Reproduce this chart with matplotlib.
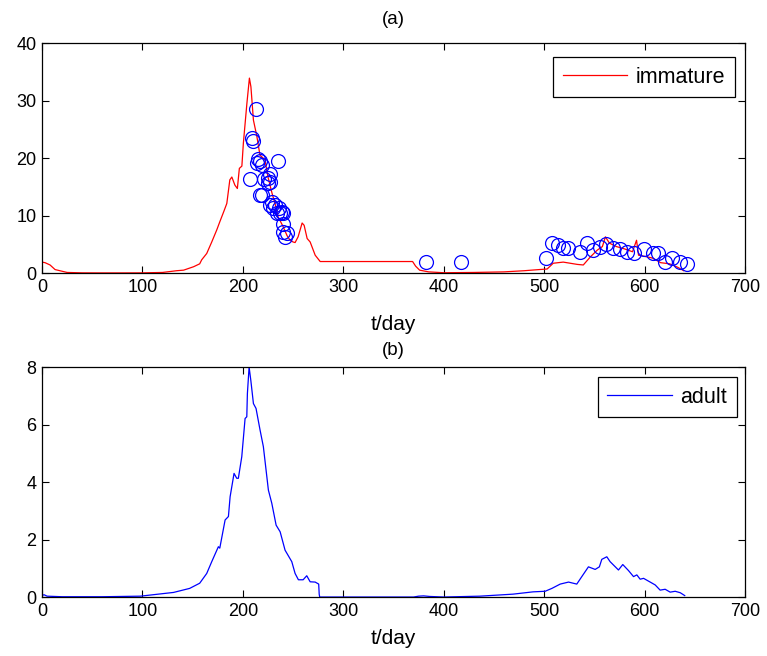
import matplotlib
matplotlib.use("Agg")
import matplotlib.pyplot as plt

plt.rcParams['font.family'] = ['Liberation Sans', 'DejaVu Sans']

# immature model curve (red)
imm_t = [0, 3, 8, 13, 25, 40, 60, 80, 100, 120, 134, 141, 151, 157, 159, 164, 169, 174, 177, 181, 184, 187, 189,
         192, 194.5, 196.5, 199, 200.5, 204, 206.5, 208, 210.5, 214, 217, 222, 225, 229, 232, 235, 240, 244, 247,
         250, 252, 255, 259, 261, 264, 267, 272, 277, 300, 340, 369, 372, 376, 385, 400, 430, 460, 480, 495, 503,
         509, 519, 533, 539, 546, 553, 558, 561, 565, 572, 580, 588, 592, 594, 600, 608, 616, 625, 633, 639]
imm_y = [1.9, 1.8, 1.4, 0.6, 0.1, 0.03, 0.02, 0.02, 0.03, 0.1, 0.4, 0.5, 1.1, 1.6, 2.3, 3.4, 5.4, 7.5, 8.9, 10.7,
         12.1, 16.2, 16.7, 15.3, 14.7, 18.2, 18.6, 22.6, 29.5, 33.9, 32.4, 26.6, 23.7, 20.5, 19.7, 16.7, 13.9, 12.1,
         9.8, 8.1, 6.5, 5.7, 5.4, 5.3, 6.3, 8.7, 8.3, 6.0, 5.4, 3.1, 2.0, 2.0, 2.0, 2.0, 1.2, 0.5, 0.2, 0.05, 0.1,
         0.2, 0.4, 0.6, 0.7, 1.7, 1.9, 1.5, 1.4, 2.8, 4.0, 4.6, 6.3, 5.2, 4.6, 4.2, 3.7, 5.7, 3.1, 2.9, 2.6, 1.8,
         1.6, 1.0, 0.4]

# observed immature data (circles)
obs_t = [207, 208.8, 210.5, 212.8, 213.8, 215.5, 217, 218.8, 217, 219.4, 221, 225, 225.4, 227, 227, 227, 228.6,
         230.4, 232, 233.7, 235.4, 235.5, 237, 238.7, 240, 240.4, 240.4, 242, 243.7, 382, 417, 502, 507.6, 514,
         519, 524, 536, 543, 549, 556, 562, 569, 576, 582.5, 589, 599, 608.6, 613.5, 620.5, 627.5, 635.5, 642]
obs_y = [16.3, 23.4, 23.0, 28.5, 19.1, 19.9, 19.4, 18.8, 13.6, 13.6, 16.3, 15.6, 16.5, 17.3, 11.8, 15.9, 12.4,
         11.3, 11.8, 10.4, 19.4, 11.3, 10.4, 10.7, 10.4, 8.6, 7.2, 6.3, 6.9, 2.0, 1.9, 2.7, 5.2, 4.9, 4.4, 4.3,
         3.7, 5.2, 4.0, 4.6, 5.1, 4.4, 4.1, 3.6, 3.5, 4.1, 3.5, 3.5, 2.0, 2.7, 2.0, 1.5]

# adult model curve (blue)
adu_t = [0, 2, 5, 20, 60, 98, 131, 147, 157, 164, 169, 175.6, 177, 182.3, 185.6, 187.3, 191.2, 193.9, 195.5,
         198.9, 202.2, 203.9, 204.5, 206.2, 207.9, 210.5, 213.1, 217.1, 220.4, 225.4, 228.8, 233.1, 237.1, 242,
         248.7, 252, 255.3, 260, 263.6, 267, 272, 275.5, 276, 276.5, 300, 370, 375, 380, 386, 400, 436, 469, 489,
         501, 507.7, 516, 524.3, 532.5, 537.5, 544.1, 550.8, 555, 557.4, 562.4, 565.7, 574, 578.3, 584, 589,
         592.3, 595.6, 599, 605.6, 610.6, 615.5, 620.5, 625.5, 630.5, 635.5, 640]
adu_y = [0.05, 0.08, 0.03, 0.01, 0.01, 0.03, 0.16, 0.3, 0.48, 0.82, 1.23, 1.75, 1.7, 2.68, 2.8, 3.49, 4.3, 4.13,
         4.13, 4.88, 6.21, 6.27, 7.08, 8.0, 7.54, 6.73, 6.56, 5.81, 5.23, 3.72, 3.26, 2.5, 2.27, 1.63, 1.23, 0.82,
         0.6, 0.6, 0.74, 0.53, 0.52, 0.45, 0.1, 0.0, 0.0, 0.0, 0.03, 0.04, 0.02, 0.0, 0.03, 0.1, 0.18, 0.2, 0.3,
         0.45, 0.52, 0.45, 0.71, 1.05, 0.96, 1.05, 1.31, 1.4, 1.23, 0.94, 1.13, 0.92, 0.71, 0.77, 0.62, 0.65,
         0.52, 0.42, 0.24, 0.27, 0.17, 0.2, 0.15, 0.05]

x_ticks = [0, 100, 200, 300, 400, 500, 600, 700]
ya_ticks = [0, 10, 20, 30, 40]
yb_ticks = [0, 2, 4, 6, 8]

fig = plt.figure(figsize=(7.67, 6.56), dpi=100)
fig.patch.set_facecolor('white')

ax1 = fig.add_axes([0.0548, 0.5838, 0.9165, 0.3506])
ax2 = fig.add_axes([0.0548, 0.0899, 0.9165, 0.3506])

def style(ax):
    ax.set_xlim(0, 700)
    ax.set_xticks(x_ticks)
    ax.tick_params(direction='in', top=True, right=True, labelsize=13, length=5, width=0.8, pad=4)
    for s in ax.spines.values():
        s.set_linewidth(0.9)

def legend(ax, anchor):
    leg = ax.legend(loc='upper right', bbox_to_anchor=anchor, fontsize=15.5, handlelength=3.0,
                    frameon=True, fancybox=False, edgecolor='black', facecolor='white', framealpha=1,
                    borderaxespad=0, handletextpad=0.4, borderpad=0.45)
    leg.get_frame().set_linewidth(0.9)

ax1.plot(imm_t, imm_y, color='red', lw=0.9, label='immature')
ax1.plot(obs_t, obs_y, 'o', mfc='none', mec='blue', ms=10, mew=0.9)
style(ax1)
ax1.set_ylim(0, 40)
ax1.set_yticks(ya_ticks)
ax1.set_xlabel('t/day', fontsize=15, labelpad=14)
ax1.set_title('(a)', fontsize=13.5, pad=14)
legend(ax1, (0.9858, 0.939))

ax2.plot(adu_t, adu_y, color='blue', lw=0.9, label='adult')
style(ax2)
ax2.set_ylim(0, 8)
ax2.set_yticks(yb_ticks)
ax2.set_xlabel('t/day', fontsize=15, labelpad=7)
ax2.set_title('(b)', fontsize=13.5, pad=9)
legend(ax2, (0.9886, 0.9565))

fig.savefig('out.png', dpi=100)
